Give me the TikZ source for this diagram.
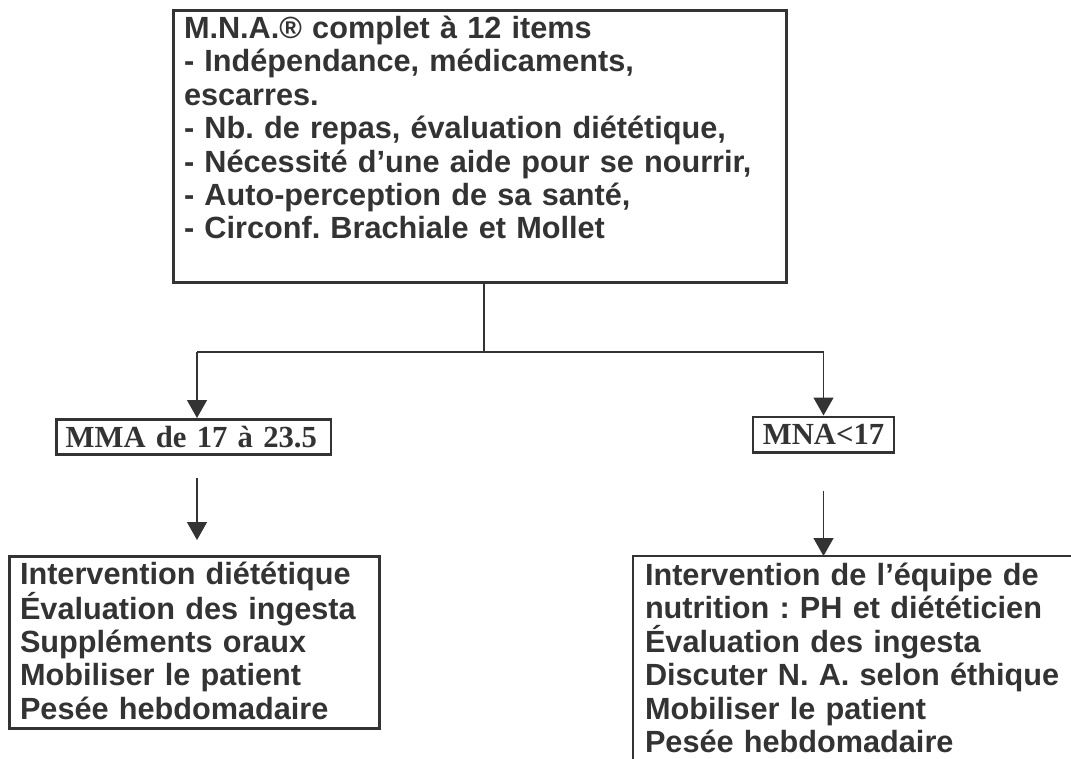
\documentclass[tikz,border=0pt]{standalone}
\usepackage{fontspec}
\setmainfont{Liberation Sans}
\newfontfamily\scorefont{Liberation Serif}
\usepackage{xcolor}
\usepackage{tikz}
\usetikzlibrary{positioning, arrows.meta}
\definecolor{ink}{HTML}{333333}
\frenchspacing
\tikzset{
    block/.style={
        draw = ink, line width = 2pt,
        text = ink, align = left,
        inner xsep = 8pt, inner ysep = 4pt,
        font = \fontsize{23}{25.1}\selectfont\bfseries
    },
    score/.style={
        draw = ink, line width = 2pt,
        text = ink, inner xsep = 7pt, inner ysep = 0pt,
        minimum height = 26.5pt,
        font = \fontsize{23}{25}\selectfont\scorefont\bfseries
    },
    line/.style = {draw = ink, line width = 1pt},
    arrow/.style = {line, -{Triangle[length=13.5pt, width=15pt]}}
}

\begin{document}
\begin{tikzpicture}[x = 0.75pt, y = -0.75pt]
    \useasboundingbox (0,0) rectangle (1071,758);

    \node[block, anchor = north west, text width = 443.75pt, text depth = 179.5pt] (mna) at (172,9) {M.N.A.® complet à 12 items\\- Indépendance, médicaments,\\escarres.\\- Nb. de repas, évaluation diététique,\\- Nécessité d’une aide pour se nourrir,\\- Auto-perception de sa santé,\\- Circonf. Brachiale et Mollet};

    \node[score, anchor = north west, text width = 192pt, align = left] (mid) at (55,418) {MMA de 17 à 23.5};
    \node[score, minimum width = 105.75pt] (low) at (823.5,434.5) {MNA<17};

    \node[block, anchor = north west, text width = 261.5pt, text depth = 104pt] (diet) at (8,555) {Intervention diététique\\Évaluation des ingesta\\Suppléments oraux\\Mobiliser le patient\\Pesée hebdomadaire};
    \node[block, draw = none, anchor = north west, text width = 330pt, text depth = 180pt] (team) at (633,556) {Intervention de l’équipe de\\nutrition : PH et diététicien\\Évaluation des ingesta\\Discuter N. A. selon éthique\\Mobiliser le patient\\Pesée hebdomadaire};
    \draw[ink, line width = 2pt] (team.north east) -- (team.north west) -- (team.south west);

    \coordinate (split) at (484,352);
    \coordinate (lft) at (197,352);
    \coordinate (rgt) at (low.north |- split);
    \path (mid.south -| lft) ++(0,22) coordinate (tail1);
    \path (diet.north -| lft) ++(0,-15) coordinate (head1);
    \path (low.south) ++(0,37) coordinate (tail2);

    \draw[line] (mna.south -| split) -- (split);
    \draw[line] (lft) -- (rgt);
    \draw[arrow] (lft) -- (lft |- mid.north);
    \draw[arrow] (rgt) -- (low.north);
    \draw[arrow] (tail1) -- (head1);
    \draw[arrow] (tail2) -- (tail2 |- team.north);

\end{tikzpicture}
\end{document}
